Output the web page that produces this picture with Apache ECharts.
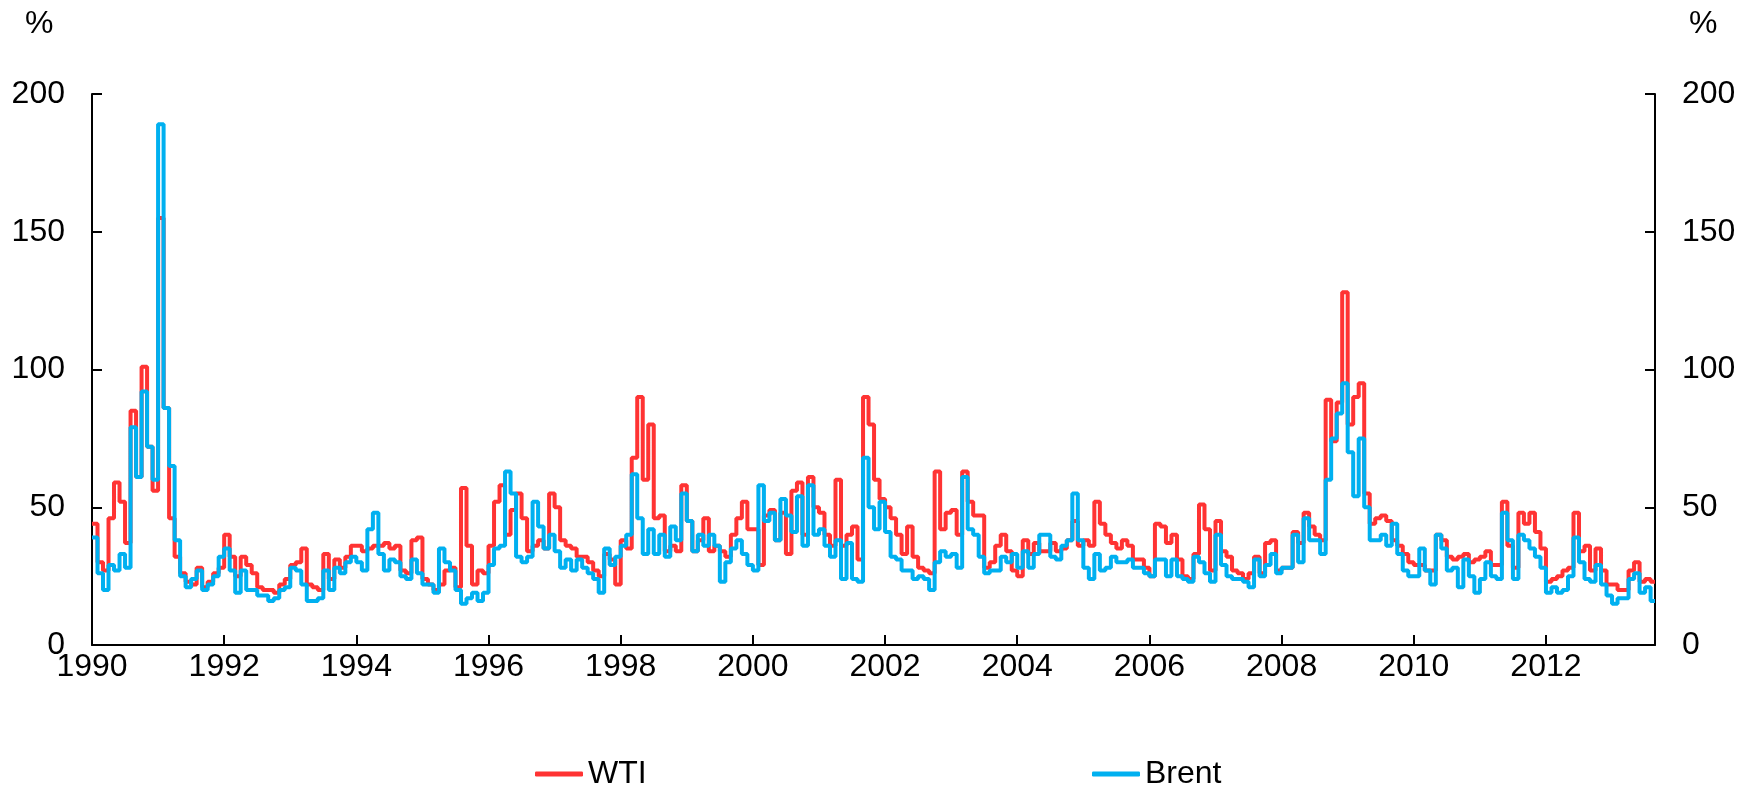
<!DOCTYPE html>
<html>
<head>
    <meta charset="utf-8" />
    <title>WTI / Brent</title>
    <style>
        html, body { margin: 0; padding: 0; background: #fff; }
        #main { width: 1756px; height: 786px; }
    </style>
</head>
<body>
<script src="https://cdn.jsdelivr.net/npm/echarts@6.0.0/dist/echarts.min.js"></script>
<div id="main"></div>
<script type="text/javascript">
    // monthly values from Jan 1990, in %
    var startYear = 1990;
    var endYear = 2013.65;
    var yearTicks = [1990, 1992, 1994, 1996, 1998, 2000, 2002, 2004, 2006, 2008, 2010, 2012];
    var yTicks = [0, 50, 100, 150, 200];

    var wti = [
        44, 30, 27, 46, 59, 52, 37, 85, 61, 101, 72, 56,   // 1990
        155, 86, 46, 32, 26, 23, 22, 28, 21, 23, 26, 28,   // 1991
        40, 32, 25, 32, 29, 26, 21, 20, 20, 19, 22, 24,    // 1992
        29, 30, 35, 22, 21, 20, 33, 24, 31, 28, 32, 36,    // 1993
        36, 34, 35, 36, 36, 37, 35, 36, 27, 26, 38, 39,    // 1994
        24, 22, 20, 22, 27, 28, 21, 57, 36, 22, 27, 26,    // 1995
        36, 52, 58, 40, 49, 55, 46, 34, 36, 38, 35, 55,    // 1996
        50, 38, 36, 35, 32, 32, 30, 27, 25, 33, 31, 22,    // 1997
        38, 35, 68, 90, 60, 80, 46, 47, 34, 36, 34, 58,    // 1998
        45, 34, 38, 46, 34, 36, 34, 32, 40, 46, 52, 42,    // 1999
        42, 29, 47, 49, 38, 48, 33, 56, 59, 40, 61, 50,    // 2000
        48, 40, 36, 60, 36, 40, 43, 31, 90, 80, 60, 53,    // 2001
        50, 46, 40, 33, 43, 32, 28, 27, 26, 63, 42, 48,    // 2002
        49, 40, 63, 52, 47, 47, 28, 30, 36, 40, 34, 27,    // 2003
        25, 38, 33, 37, 34, 34, 37, 34, 35, 38, 45, 36,    // 2004
        38, 36, 52, 44, 40, 37, 35, 38, 36, 31, 31, 28,    // 2005
        25, 44, 43, 37, 40, 31, 25, 24, 33, 51, 42, 27,    // 2006
        45, 34, 32, 27, 26, 24, 26, 32, 26, 37, 38, 27,    // 2007
        28, 28, 41, 37, 48, 43, 40, 38, 89, 74, 88, 128,   // 2008
        80, 90, 95, 55, 44, 46, 47, 45, 38, 36, 33, 30,    // 2009
        29, 29, 27, 27, 40, 38, 32, 31, 32, 33, 30, 31,    // 2010
        32, 34, 29, 29, 52, 36, 28, 48, 44, 48, 41, 35,    // 2011
        23, 24, 25, 27, 28, 48, 34, 36, 27, 35, 27, 22,    // 2012
        22, 20, 20, 27, 30, 23, 24, 23                     // 2013
    ];

    var brent = [
        39, 26, 20, 29, 27, 33, 28, 79, 61, 92, 72, 60,    // 1990
        189, 86, 65, 38, 25, 21, 24, 27, 20, 22, 25, 32,   // 1991
        35, 27, 19, 27, 20, 20, 18, 18, 16, 17, 20, 21,    // 1992
        28, 27, 22, 16, 16, 17, 27, 20, 28, 26, 30, 32,    // 1993
        30, 27, 42, 48, 33, 27, 31, 30, 25, 24, 31, 26,    // 1994
        22, 22, 19, 35, 30, 27, 20, 15, 17, 19, 16, 19,    // 1995
        29, 35, 36, 63, 55, 32, 30, 32, 52, 43, 35, 40,    // 1996
        34, 28, 31, 27, 31, 28, 26, 24, 19, 35, 29, 32,    // 1997
        36, 40, 62, 46, 33, 42, 33, 40, 32, 43, 38, 55,    // 1998
        45, 34, 40, 36, 40, 36, 23, 30, 35, 38, 33, 29,    // 1999
        27, 58, 45, 48, 38, 53, 47, 41, 54, 36, 58, 40,    // 2000
        42, 36, 32, 38, 24, 37, 24, 23, 68, 50, 42, 52,    // 2001
        41, 32, 31, 27, 27, 24, 25, 24, 20, 30, 34, 32,    // 2002
        33, 28, 61, 42, 40, 32, 26, 27, 27, 32, 30, 33,    // 2003
        28, 34, 28, 33, 40, 40, 32, 31, 36, 38, 55, 38,    // 2004
        28, 24, 33, 27, 28, 32, 30, 30, 31, 28, 28, 26,    // 2005
        25, 31, 31, 25, 31, 25, 24, 23, 32, 30, 26, 23,    // 2006
        40, 29, 25, 24, 24, 23, 21, 31, 25, 29, 33, 26,    // 2007
        28, 28, 40, 30, 46, 38, 38, 33, 60, 75, 84, 95,    // 2008
        70, 54, 75, 50, 38, 38, 40, 36, 44, 33, 27, 25,    // 2009
        25, 35, 27, 22, 40, 35, 27, 28, 21, 31, 25, 19,    // 2010
        24, 30, 25, 24, 48, 38, 24, 40, 38, 35, 32, 28,    // 2011
        19, 21, 19, 20, 25, 39, 30, 24, 23, 29, 22, 18,    // 2012
        15, 17, 17, 24, 26, 19, 21, 16                     // 2013
    ];

    // month index -> decimal year, last value held to the end of the axis
    function toPoints(arr) {
        var pts = arr.map(function (v, i) { return [startYear + i / 12, v]; });
        pts.push([endYear, arr[arr.length - 1]]);
        return pts;
    }

    var fontName = '"Liberation Sans", Arial, sans-serif';
    var black = '#000';

    function yAxisCfg(pos) {
        return {
            type: 'value',
            position: pos,
            min: yTicks[0],
            max: yTicks[yTicks.length - 1],
            interval: yTicks[1] - yTicks[0],
            splitLine: { show: false },
            axisLine: { show: true, lineStyle: { color: black, width: 2 } },
            axisTick: { show: true, inside: true, length: 10, lineStyle: { color: black, width: 2 } },
            axisLabel: { color: black, fontSize: 32, fontFamily: fontName, margin: 27 }
        };
    }

    var myChart = echarts.init(document.getElementById('main'));

    var option = {
        animation: false,
        backgroundColor: '#fff',
        grid: { left: 92, right: 101, top: 94, bottom: 141, outerBoundsMode: 'none' },
        xAxis: {
            type: 'value',
            min: startYear,
            max: endYear,
            interval: 2,
            splitLine: { show: false },
            axisLine: { show: true, onZero: false, lineStyle: { color: black, width: 2 } },
            axisTick: { show: true, inside: true, length: 10, lineStyle: { color: black, width: 2 } },
            axisLabel: {
                color: black, fontSize: 32, fontFamily: fontName, margin: 6,
                showMaxLabel: false,
                formatter: function (v) {
                    var r = Math.round(v);
                    return (Math.abs(v - r) < 1e-6 && yearTicks.indexOf(r) >= 0) ? String(r) : '';
                }
            }
        },
        yAxis: [yAxisCfg('left'), yAxisCfg('right')],
        legend: [
            {
                data: ['WTI'], left: 530, top: 753,
                icon: 'roundRect', itemWidth: 48, itemHeight: 5,
                textStyle: { color: black, fontSize: 32, fontFamily: fontName }
            },
            {
                data: ['Brent'], left: 1087, top: 753,
                icon: 'roundRect', itemWidth: 48, itemHeight: 5,
                textStyle: { color: black, fontSize: 32, fontFamily: fontName }
            }
        ],
        graphic: [
            { type: 'text', left: 25, top: 8, style: { text: '%', fill: black, font: '32px ' + fontName } },
            { type: 'text', left: 1689, top: 8, style: { text: '%', fill: black, font: '32px ' + fontName } }
        ],
        series: [
            {
                name: 'WTI',
                type: 'line',
                step: 'end',
                showSymbol: false,
                yAxisIndex: 0,
                color: '#ff3333',
                lineStyle: { color: '#ff3333', width: 4 },
                data: toPoints(wti)
            },
            {
                name: 'Brent',
                type: 'line',
                step: 'end',
                showSymbol: false,
                yAxisIndex: 0,
                color: '#00b0f0',
                lineStyle: { color: '#00b0f0', width: 4 },
                data: toPoints(brent)
            }
        ]
    };

    myChart.setOption(option);
</script>
</body>
</html>
